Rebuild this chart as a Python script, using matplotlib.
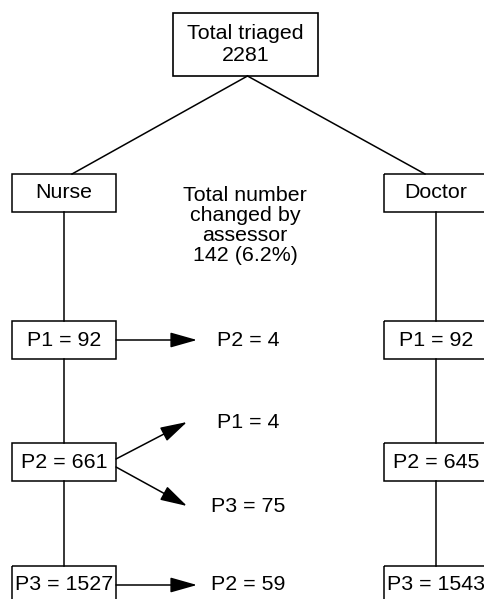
import matplotlib.pyplot as plt
from matplotlib.patches import Rectangle

###############################################
# data

total_triaged = 2281
assessors = ["Nurse", "Doctor"]
priorities = ["P1", "P2", "P3"]
nurse_counts = [92, 661, 1527]
doctor_counts = [92, 645, 1543]
changed_total = 142
changed_pct = 6.2
# changes made by the assessor: (from, to, number)
changes = [("P1", "P2", 4), ("P2", "P1", 4), ("P2", "P3", 75), ("P3", "P2", 59)]

###############################################
# layout (pixel coords, y downwards)

plt.rcParams['font.family'] = ['Liberation Sans', 'DejaVu Sans']
FS = 15.4
LW = 1.1

col_x = {"Nurse": 64, "Doctor": 436}
row_y = {"head": 193, "P1": 340, "P2": 462, "P3": 585}
box_w, box_h = 104, 38
mid_x = 248
tip_x = {0: 197, 1: 187}
target_dy = {0: 0, -1: -40, 1: 44}

fig = plt.figure(figsize=(4.84, 5.99), dpi=100)
ax = fig.add_axes([0, 0, 1, 1])
ax.set_xlim(0, 484)
ax.set_ylim(599, 0)
ax.axis("off")


def box(cx, cy, w, h, text, lw=LW, ls=1.0):
    ax.add_patch(Rectangle((cx - w / 2, cy - h / 2), w, h, fill=False,
                           edgecolor="black", linewidth=lw, zorder=2))
    ax.text(cx, cy, text, ha="center", va="center", fontsize=FS,
            linespacing=ls, zorder=3)


def arrow(x0, y0, x1, y1):
    ax.annotate("", xy=(x1, y1), xytext=(x0, y0),
                arrowprops=dict(arrowstyle="-|>,head_length=1.66,head_width=0.47",
                                mutation_scale=10, color="black", lw=LW,
                                shrinkA=0, shrinkB=0))


# top box
top_x, top_y = 245.5, 44.5
box(top_x, top_y, 145, 63, "Total triaged\n%d" % total_triaged, lw=1.2, ls=1.15)

for name, counts in zip(assessors, [nurse_counts, doctor_counts]):
    cx = col_x[name]
    # connector from top box to assessor box
    ax.plot([top_x + 2, cx + (8 if name == "Nurse" else -11)],
            [top_y + 31.5, row_y["head"] - box_h / 2], color="black", lw=LW)
    box(cx, row_y["head"], box_w, box_h, name)
    prev = row_y["head"]
    for p, n in zip(priorities, counts):
        y = row_y[p]
        ax.plot([cx, cx], [prev + box_h / 2, y - box_h / 2], color="black", lw=LW)
        box(cx, y, box_w, box_h, "%s = %d" % (p, n))
        prev = y

ax.text(mid_x - 3, 225.5, "Total number\nchanged by\nassessor\n%d (%.1f%%)"
        % (changed_total, changed_pct), ha="center", va="center",
        fontsize=FS, linespacing=1.08)

# changes by the assessor
for src, dst, n in changes:
    step = priorities.index(dst) - priorities.index(src)
    y0 = row_y[src]
    if src == "P2":
        ty = y0 + target_dy[step]
        sy = y0 + (-3 if step < 0 else 5)
        arrow(col_x["Nurse"] + box_w / 2, sy, tip_x[1], ty)
    else:
        ty = y0
        arrow(col_x["Nurse"] + box_w / 2, ty, tip_x[0], ty)
    ax.text(mid_x, ty, "%s = %d" % (dst, n), ha="center", va="center", fontsize=FS)

fig.savefig("out.png", dpi=100)
